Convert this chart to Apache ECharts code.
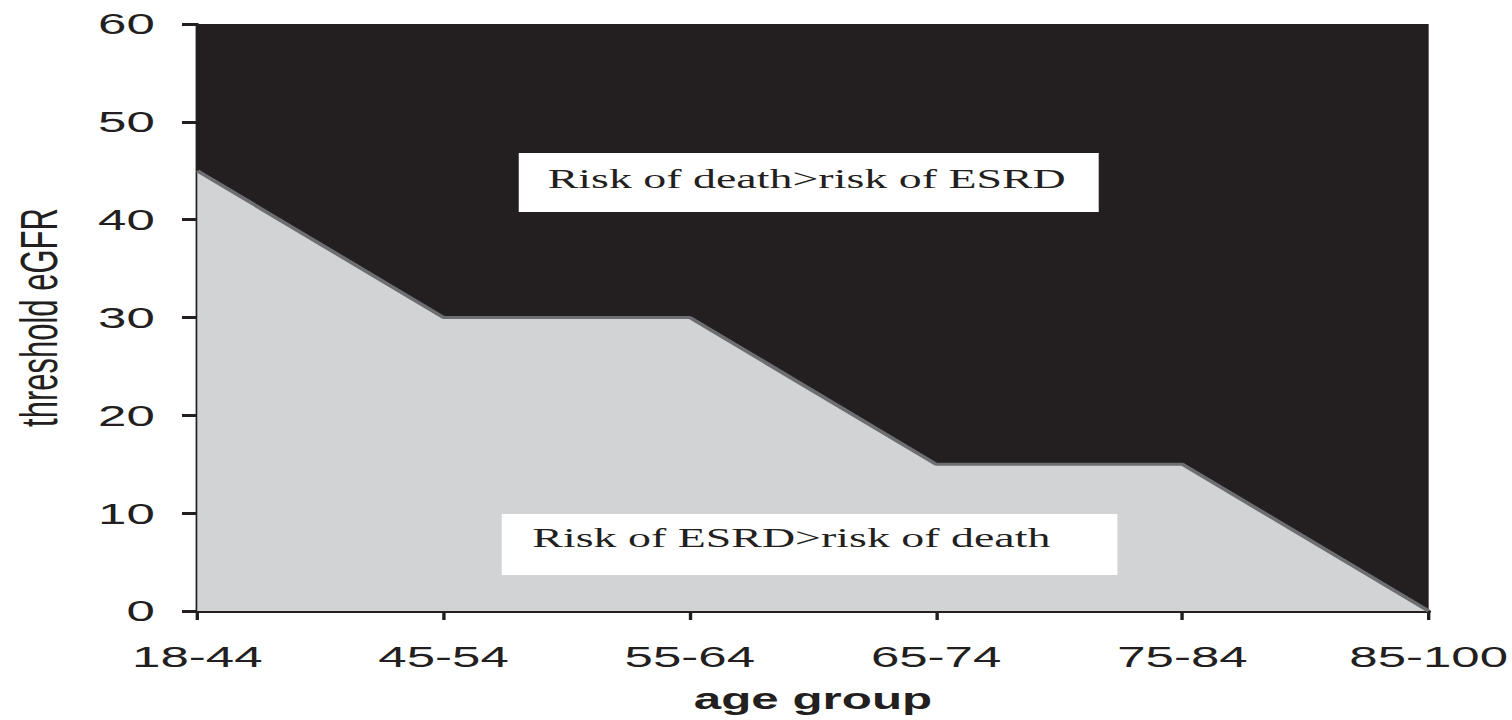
<!DOCTYPE html>
<html>
<head>
<meta charset="utf-8">
<title>threshold eGFR by age group</title>
<script src="https://cdn.jsdelivr.net/npm/echarts@6/dist/echarts.min.js"></script>
<style>
  html, body { margin: 0; padding: 0; background: #fff; overflow: hidden; }
  /* the source figure is stretched sideways, so draw narrow and stretch */
  #chartContainer { width: 889px; height: 720px; transform: scaleX(1.7008); transform-origin: 0 0; }
</style>
</head>
<body>
<div id="chartContainer"></div>
<script>
// 数据
const ageGroups = ['18-44', '45-54', '55-64', '65-74', '75-84', '85-100'];
const thresholdEgfr = [45, 30, 30, 15, 15, 0];
const yMin = 0;
const yMax = 60;
const yStep = 10;
const regionLabels = ['Risk of death>risk of ESRD', 'Risk of ESRD>risk of death'];

const DARK = '#231f20';
const GREY = '#d1d3d4';
let analysisChart = null;

function labelBox(left, top, width, height, textX, textY, text) {
  return [
    { type: 'rect', x: left, y: top, shape: { width: width, height: height }, style: { fill: '#ffffff' }, z: 10 },
    { type: 'text', x: textX, y: textY, z: 11,
      style: { text: text, fill: DARK, font: '27px "Liberation Serif", "Times New Roman", serif', align: 'left', verticalAlign: 'middle' } }
  ];
}

function initChart() {
  try {
    if (typeof echarts === 'undefined') {
      console.error('ECharts not loaded');
      return false;
    }
    const chartContainer = document.getElementById('chartContainer');
    analysisChart = echarts.init(chartContainer, null, { renderer: 'svg' });

    analysisChart.setOption({
      animation: false,
      backgroundColor: '#ffffff',
      grid: {
        left: 116, right: 49, top: 24, bottom: 109,
        containLabel: false, outerBoundsMode: 'none',
        show: true, backgroundColor: DARK, borderWidth: 0
      },
      xAxis: {
        type: 'category',
        data: ageGroups,
        boundaryGap: false,
        name: 'age group',
        nameLocation: 'middle',
        nameGap: 73,
        nameTextStyle: { fontFamily: '"Liberation Sans", Arial, sans-serif', fontSize: 29, fontWeight: 'bold', color: DARK },
        axisLine: { lineStyle: { color: DARK, width: 3 } },
        axisTick: { alignWithLabel: true, length: 9, lineStyle: { color: DARK, width: 2 } },
        axisLabel: { margin: 31, fontFamily: '"Liberation Sans", Arial, sans-serif', fontSize: 30, color: DARK },
        splitLine: { show: false }
      },
      yAxis: {
        type: 'value',
        min: yMin,
        max: yMax,
        interval: yStep,
        name: 'threshold eGFR',
        nameLocation: 'middle',
        nameGap: 78,
        nameTextStyle: { fontFamily: '"Liberation Sans", Arial, sans-serif', fontSize: 31, color: DARK },
        axisLine: { show: true, lineStyle: { color: DARK, width: 2 } },
        axisTick: { show: true, length: 9, lineStyle: { color: DARK, width: 3 } },
        axisLabel: { margin: 25, fontFamily: '"Liberation Sans", Arial, sans-serif', fontSize: 30, color: DARK },
        splitLine: { show: false }
      },
      series: [
        {
          name: 'threshold eGFR',
          type: 'line',
          data: thresholdEgfr,
          showSymbol: false,
          symbol: 'none',
          lineStyle: { color: '#6d6e71', width: 3 },
          areaStyle: { color: GREY, opacity: 1 },
          z: 2
        }
      ],
      graphic: [].concat(
        labelBox(305, 153, 341, 59, 322, 179, regionLabels[0]),
        labelBox(295, 514, 362, 61, 313, 538, regionLabels[1])
      )
    });
    return true;
  } catch (error) {
    console.error('chart init failed:', error);
    return false;
  }
}

initChart();
</script>
</body>
</html>
